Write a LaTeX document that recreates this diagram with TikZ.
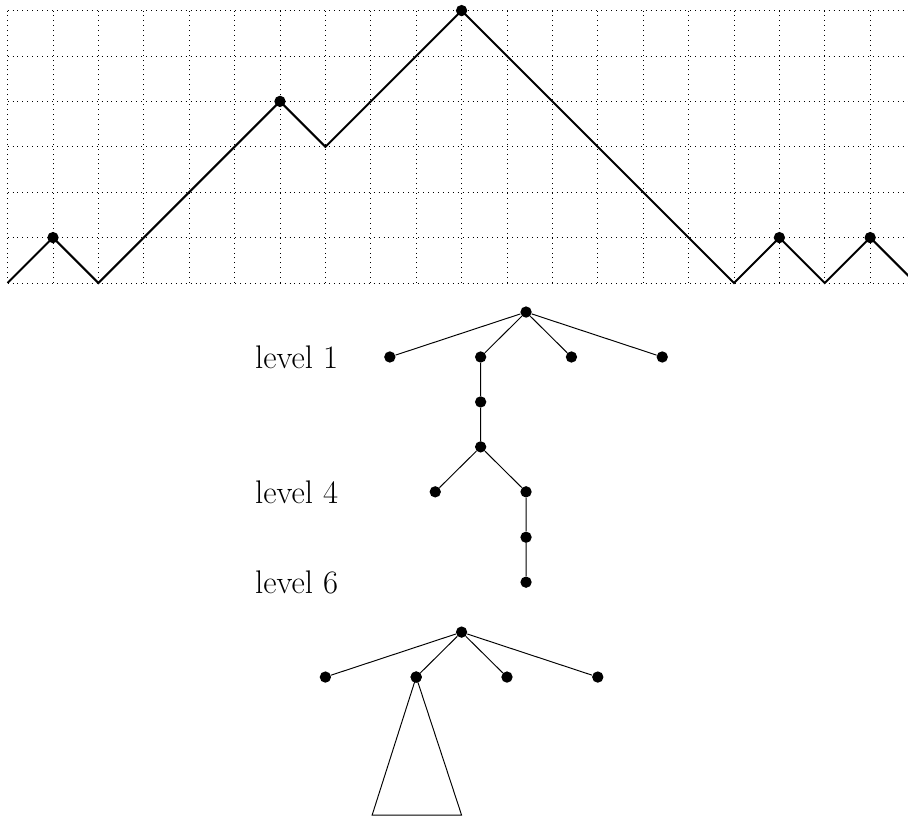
\documentclass[tikz,border=0pt]{standalone}
\begin{document}
\begin{tikzpicture}[x=1cm,y=1cm,
  gridline/.style={line width=0.5pt,dash pattern=on 0.5pt off 2.6pt},
  pathline/.style={line width=1.25pt,line join=miter},
  edge/.style={line width=0.6pt},
  dot/.style={circle,fill=black,inner sep=0pt,minimum size=0.25cm},
  lbl/.style={anchor=base west,font=\fontsize{20.5}{24}\selectfont}]
\useasboundingbox (-0.167,-11.767) rectangle (19.833,6.233);
% grid
\draw[gridline] (0,0) grid (20,6);
% Dyck path
\draw[pathline] (0,0) -- (1,1) -- (2,0) -- (6,4) -- (7,3) -- (10,6) -- (16,0) -- (17,1) -- (18,0) -- (19,1) -- (20,0);
\foreach \p in {(1,1),(6,4),(10,6),(17,1),(19,1)} \node[dot] at \p {};
% tree 1
\node[dot] (r) at (11.42,-0.64) {};
\node[dot] (a1) at (8.42,-1.63) {};
\node[dot] (a2) at (10.42,-1.63) {};
\node[dot] (a3) at (12.42,-1.63) {};
\node[dot] (a4) at (14.42,-1.63) {};
\node[dot] (b) at (10.42,-2.62) {};
\node[dot] (c) at (10.42,-3.61) {};
\node[dot] (d1) at (9.42,-4.60) {};
\node[dot] (d2) at (11.42,-4.60) {};
\node[dot] (e) at (11.42,-5.60) {};
\node[dot] (f) at (11.42,-6.59) {};
\draw[edge] (r) -- (a1) (r) -- (a2) (r) -- (a3) (r) -- (a4)
  (a2) -- (b) -- (c) (c) -- (d1) (c) -- (d2) (d2) -- (e) -- (f);
\node[lbl] (l1) at (5.33,-1.89) {level 1};
\node[lbl] (l4) at (5.33,-4.86) {level 4};
\node[lbl] (l6) at (5.33,-6.85) {level 6};
% tree 2
\node[dot] (R) at (10.0,-7.69) {};
\node[dot] (B1) at (7,-8.68) {};
\node[dot] (B2) at (9,-8.68) {};
\node[dot] (B3) at (11,-8.68) {};
\node[dot] (B4) at (13,-8.68) {};
\draw[edge] (R) -- (B1) (R) -- (B2) (R) -- (B3) (R) -- (B4);
\coordinate (T1) at (8.03,-11.72);
\coordinate (T2) at (10.0,-11.72);
\draw[edge,line join=miter] (B2.center) -- (T1) -- (T2) -- cycle;
\node[dot] at (B2) {};
\end{tikzpicture}
\end{document}
